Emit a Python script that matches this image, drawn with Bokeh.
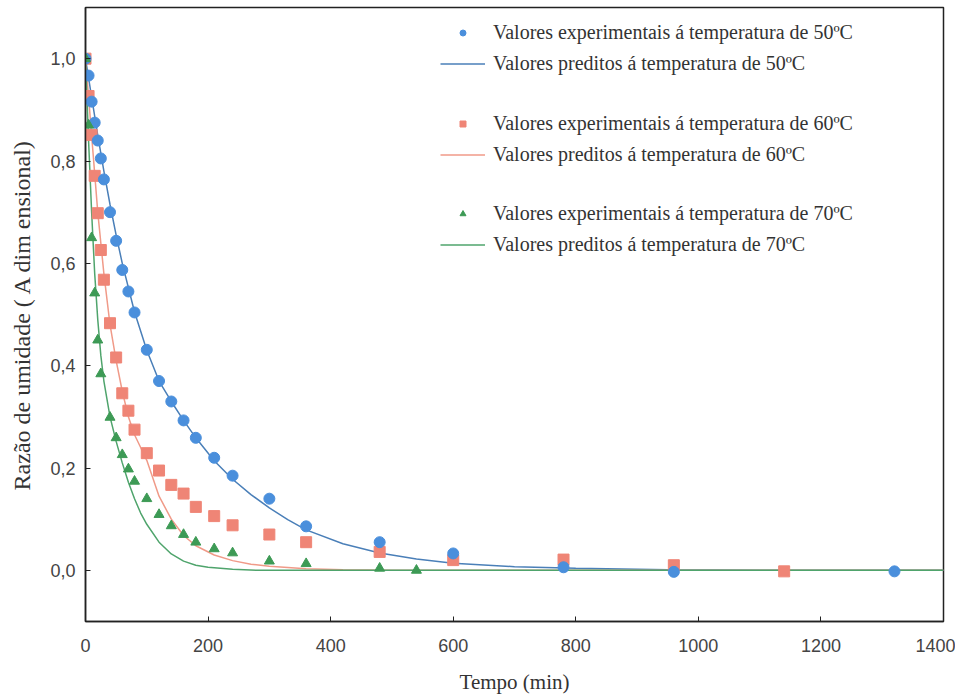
from bokeh.plotting import figure
from bokeh.models import (FixedTicker, CustomJSTickFormatter, Legend,
                          LegendItem, Range1d)
from bokeh.embed import file_html
from bokeh.resources import INLINE

t50 = [0, 5, 10, 15, 20, 25, 30, 40, 50, 60, 70, 80, 100, 120, 140, 160, 180, 210, 240, 300, 360, 480, 600, 780, 960, 1320]
mr50 = [1.0, 0.967, 0.916, 0.875, 0.84, 0.805, 0.764, 0.70, 0.644, 0.587, 0.545, 0.504, 0.431, 0.370, 0.330, 0.293,
        0.259, 0.220, 0.185, 0.140, 0.086, 0.055, 0.033, 0.006, -0.003, -0.002]

t60 = [0, 5, 10, 15, 20, 25, 30, 40, 50, 60, 70, 80, 100, 120, 140, 160, 180, 210, 240, 300, 360, 480, 600, 780, 960, 1140]
mr60 = [1.0, 0.927, 0.851, 0.771, 0.698, 0.626, 0.568, 0.483, 0.416, 0.346, 0.312, 0.275, 0.229, 0.195, 0.167, 0.150,
        0.124, 0.106, 0.088, 0.070, 0.055, 0.036, 0.020, 0.021, 0.010, -0.002]

t70 = [0, 5, 10, 15, 20, 25, 40, 50, 60, 70, 80, 100, 120, 140, 160, 180, 210, 240, 300, 360, 480, 540]
mr70 = [1.0, 0.87, 0.65, 0.542, 0.45, 0.384, 0.299, 0.259, 0.226, 0.198, 0.174, 0.140, 0.109, 0.087, 0.070, 0.055,
        0.042, 0.034, 0.018, 0.013, 0.004, 0.0]

# Predicted curves
tp50 = [0, 10, 20, 30, 40, 50, 60, 80, 100, 120, 140, 160, 180, 210, 240, 270, 300, 330, 360, 420, 480, 540, 600,
        700, 800, 950, 1100, 1400]
mp50 = [1.0, 0.925, 0.85, 0.78, 0.715, 0.655, 0.60, 0.505, 0.43, 0.37, 0.33, 0.293, 0.259, 0.214, 0.178, 0.148,
        0.122, 0.099, 0.079, 0.052, 0.034, 0.022, 0.014, 0.007, 0.004, 0.001, 0.0, 0.0]

tp60 = [0, 10, 20, 30, 40, 50, 60, 70, 80, 90, 100, 120, 140, 160, 180, 210, 240, 270, 300, 360, 420, 500, 1400]
mp60 = [1.0, 0.85, 0.70, 0.58, 0.48, 0.41, 0.35, 0.30, 0.265, 0.24, 0.215, 0.145, 0.10, 0.068, 0.048, 0.03, 0.019,
        0.012, 0.008, 0.003, 0.001, 0.0, 0.0]

tp70 = [0, 5, 10, 15, 20, 25, 30, 40, 50, 60, 70, 80, 90, 100, 120, 140, 160, 180, 200, 240, 280, 1400]
mp70 = [1.0, 0.84, 0.70, 0.58, 0.49, 0.42, 0.37, 0.30, 0.252, 0.21, 0.172, 0.14, 0.112, 0.09, 0.055, 0.032, 0.018,
        0.01, 0.006, 0.002, 0.0, 0.0]

x_ticks = [0, 200, 400, 600, 800, 1000, 1200, 1400]
y_ticks = [0.0, 0.2, 0.4, 0.6, 0.8, 1.0]

labels = [
    "Valores experimentais á temperatura de 50ºC",
    "Valores preditos á temperatura de 50ºC",
    "Valores experimentais á temperatura de 60ºC",
    "Valores preditos á temperatura de 60ºC",
    "Valores experimentais á temperatura de 70ºC",
    "Valores preditos á temperatura de 70ºC",
]

BLUE_PT, BLUE_LN = "#4a8fdc", "#4a7fb8"
RED_PT, RED_LN = "#ef8576", "#f09a88"
GRN_PT, GRN_LN = "#3d9a55", "#4fa46c"

p = figure(width=955, height=698, output_backend="svg", toolbar_location=None,
           x_range=Range1d(0, 1400), y_range=Range1d(-0.1, 1.1),
           min_border_left=85, min_border_right=12, min_border_top=7, min_border_bottom=77,
           background_fill_color="white", border_fill_color="white")
p.grid.visible = False
p.outline_line_color = "#222222"
p.outline_line_width = 1.5

l50 = p.line(tp50, mp50, line_color=BLUE_LN, line_width=1.5)
l60 = p.line(tp60, mp60, line_color=RED_LN, line_width=1.5)
l70 = p.line(tp70, mp70, line_color=GRN_LN, line_width=1.5)

s60 = p.scatter(t60, mr60, marker="square", size=11, fill_color=RED_PT, line_color=RED_PT)
s50 = p.scatter(t50, mr50, marker="circle", size=11, fill_color=BLUE_PT, line_color=BLUE_PT)
s70 = p.scatter(t70, mr70, marker="triangle", size=10, fill_color=GRN_PT, line_color=GRN_PT)

fmt = CustomJSTickFormatter(code="return tick.toFixed(1).replace('.', ',');")

for ax in p.xaxis:
    ax.ticker = FixedTicker(ticks=x_ticks)
for ax in p.yaxis:
    ax.ticker = FixedTicker(ticks=y_ticks)
    ax.formatter = fmt

for ax in list(p.xaxis) + list(p.yaxis):
    ax.major_tick_in = 5
    ax.major_tick_out = 0
    ax.minor_tick_line_color = None
    ax.axis_line_color = "#222222"
    ax.axis_line_width = 1.5
    ax.major_tick_line_color = "#222222"
    ax.major_label_text_font = "Liberation Sans"
    ax.major_label_text_font_size = "18px"
    ax.major_label_text_color = "#444444"
    ax.axis_label_text_font = "Liberation Serif"
    ax.axis_label_text_font_style = "normal"
    ax.axis_label_text_color = "#333333"

p.xaxis.axis_label = "Tempo (min)"
p.xaxis.axis_label_text_font_size = "21px"
p.xaxis.major_label_standoff = 17
p.xaxis.axis_label_standoff = 15

p.yaxis.axis_label = "Razão de umidade ( A dim ensional)"
p.yaxis.axis_label_text_font_size = "24px"
p.yaxis.major_label_standoff = 10
p.yaxis.axis_label_standoff = 12


def make_legend(items, y):
    lg = Legend(items=items, location=(355, y), orientation="vertical",
                background_fill_alpha=0, border_line_color=None, padding=0, margin=0,
                spacing=5, glyph_width=45, glyph_height=15, label_height=26,
                label_standoff=8, label_text_font="Liberation Serif",
                label_text_font_size="20px", label_text_color="#333333")
    p.add_layout(lg, "center")


make_legend([LegendItem(label=labels[0], renderers=[s50]), LegendItem(label=labels[1], renderers=[l50])], 545)
make_legend([LegendItem(label=labels[2], renderers=[s60]), LegendItem(label=labels[3], renderers=[l60])], 454)
make_legend([LegendItem(label=labels[4], renderers=[s70]), LegendItem(label=labels[5], renderers=[l70])], 364)

open("out.html", "w").write(file_html(p, INLINE))
